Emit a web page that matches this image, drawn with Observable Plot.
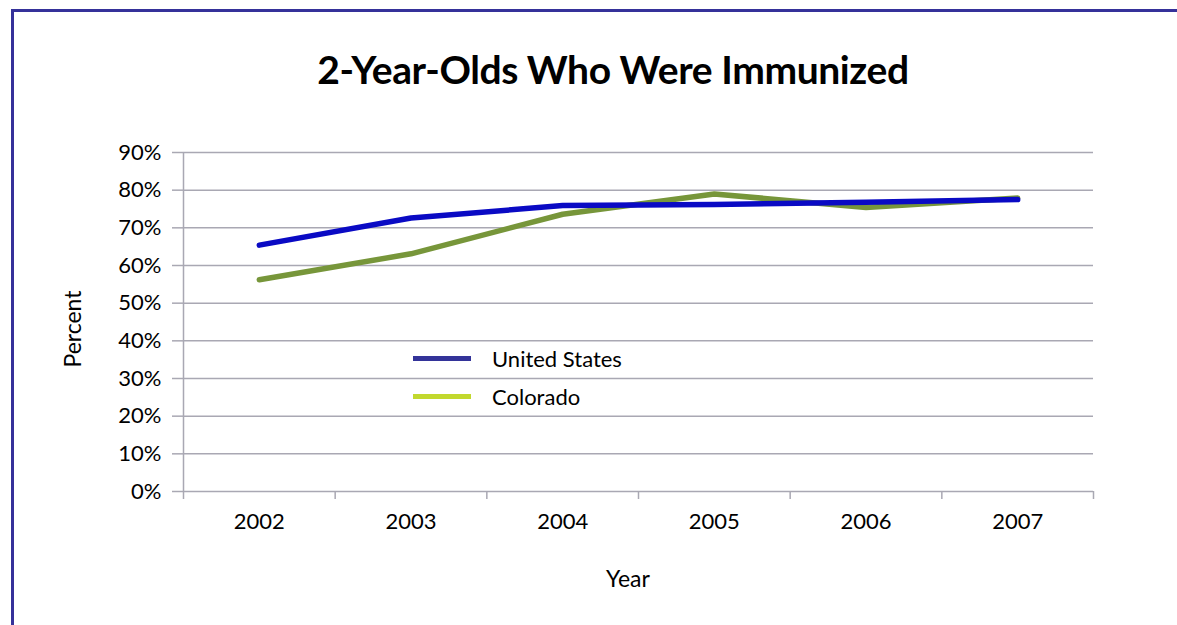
<!DOCTYPE html>
<html>
<head>
<meta charset="utf-8">
<script src="https://cdn.jsdelivr.net/npm/d3@7"></script>
<script src="https://cdn.jsdelivr.net/npm/@observablehq/plot@0.6"></script>
<style>
  html, body { margin: 0; padding: 0; background: #fff; }
  body { width: 1177px; height: 625px; position: relative; overflow: hidden; font-family: Lato, "Open Sans", sans-serif; }
  #frame { position: absolute; left: 11px; top: 9px; width: 1300px; height: 800px; border: 3px solid #35319a; box-sizing: border-box; }
  #title { position: absolute; left: 0; width: 1226px; top: 46px; text-align: center; font-size: 39px; font-weight: 700; color: #000; letter-spacing: -0.4px; line-height: 46px; }
  #chart { position: absolute; left: 0; top: 0; }
  #legend { position: absolute; left: 413px; top: 339px; font-size: 22px; color: #000; }
  .item { display: flex; align-items: center; height: 38px; }
  .sw { width: 58px; height: 5px; margin-right: 21px; }
  #ylab { position: absolute; left: 72px; top: 329px; font-size: 23px; transform: translate(-50%, -50%) rotate(-90deg); white-space: nowrap; }
  #xlab { position: absolute; left: 628px; top: 578px; font-size: 23px; transform: translate(-50%, -50%); white-space: nowrap; }
</style>
</head>
<body>
<div id="frame"></div>
<div id="chart"></div>
<div id="title">2-Year-Olds Who Were Immunized</div>
<div id="ylab">Percent</div>
<div id="xlab">Year</div>
<div id="legend"></div>
<script>
const years = [2002, 2003, 2004, 2005, 2006, 2007];
const unitedStates = [65.4, 72.6, 75.9, 76.2, 76.8, 77.5];
const colorado = [56.2, 63.1, 73.6, 79.0, 75.4, 77.9];
const seriesNames = ["United States", "Colorado"];
const lineColors = ["#0a0ac4", "#77963a"];
const legendColors = ["#333399", "#c2d82e"];
const yTicks = [0, 10, 20, 30, 40, 50, 60, 70, 80, 90];
const boundaries = [2001.5, 2002.5, 2003.5, 2004.5, 2005.5, 2006.5, 2007.5];

const data = [];
years.forEach((yr, i) => {
  data.push({year: yr, value: unitedStates[i], series: seriesNames[0]});
  data.push({year: yr, value: colorado[i], series: seriesNames[1]});
});

const gray = "#a9a8b3";
const chart = Plot.plot({
  width: 1177,
  height: 625,
  marginLeft: 183,
  marginRight: 84,
  marginTop: 152,
  marginBottom: 134,
  style: {fontFamily: "Lato, 'Open Sans', sans-serif", fontSize: "22px", color: "#000", background: "transparent"},
  x: {domain: [2001.5, 2007.5]},
  y: {domain: [0, 90]},
  marks: [
    Plot.ruleY(yTicks, {stroke: gray, strokeWidth: 1.5, strokeOpacity: 1}),
    Plot.ruleX([2001.5], {y1: 0, y2: 90, stroke: gray, strokeWidth: 1.5}),
    Plot.axisY({ticks: yTicks, tickSize: 11, tickPadding: 11, stroke: gray, strokeWidth: 1.5, strokeOpacity: 1,
      tickFormat: d => d + "%", label: null, fill: "#000"}),
    Plot.axisX({ticks: boundaries, tickSize: 8, tickFormat: () => "", stroke: gray, strokeWidth: 1.5, strokeOpacity: 1, label: null}),
    Plot.axisX({ticks: years, tickSize: 0, tickPadding: 22, tickFormat: d => String(d), label: null, fill: "#000"}),
    Plot.line(data.filter(d => d.series === "Colorado"), {x: "year", y: "value", stroke: lineColors[1], strokeWidth: 5.5, strokeLinecap: "round", strokeLinejoin: "round"}),
    Plot.line(data.filter(d => d.series === "United States"), {x: "year", y: "value", stroke: lineColors[0], strokeWidth: 5.5, strokeLinecap: "round", strokeLinejoin: "round"})
  ]
});
document.getElementById("chart").appendChild(chart);

const legend = document.getElementById("legend");
seriesNames.forEach((name, i) => {
  const row = document.createElement("div");
  row.className = "item";
  const sw = document.createElement("div");
  sw.className = "sw";
  sw.style.background = legendColors[i];
  const label = document.createElement("span");
  label.textContent = name;
  row.appendChild(sw);
  row.appendChild(label);
  legend.appendChild(row);
});
</script>
</body>
</html>
